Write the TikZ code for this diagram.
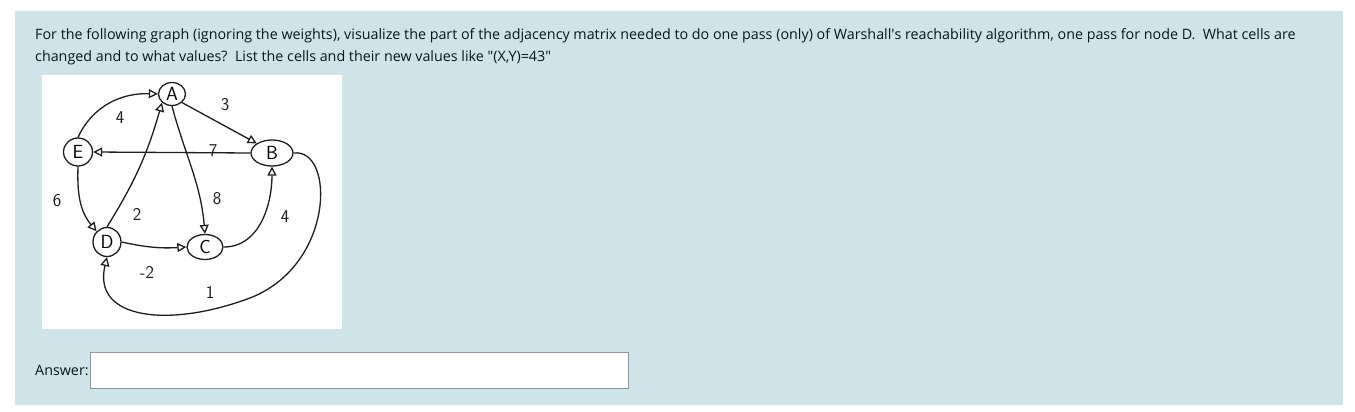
\documentclass[tikz,border=0pt]{standalone}
\usepackage{fontspec}
\setmainfont{Open Sans}
\usetikzlibrary{arrows.meta,shapes.geometric}
\definecolor{panelbg}{RGB}{206,228,232}
\definecolor{qtext}{RGB}{0,26,30}
\definecolor{boxline}{RGB}{143,149,158}
\definecolor{pen}{RGB}{30,30,30}
\newfontfamily\handfont{Latin Modern Sans}

\begin{document}
\begin{tikzpicture}[x=1pt,y=-1pt,>={Triangle[open,length=9pt,width=9pt]}]
        \tikzstyle{vert}=[ellipse, draw=pen, line width=1.3pt, inner sep=0pt, font=\handfont\fontsize{19}{19}\selectfont]
        \tikzstyle{wt}=[font=\handfont\fontsize{18}{18}\selectfont, text=pen]
        \tikzstyle{edge}=[->, line width=1.3pt, pen]
        \tikzstyle{qline}=[anchor=base west, inner sep=0pt, text=qtext, font=\fontsize{14.3}{16}\selectfont]
        \useasboundingbox (0,0) rectangle (1355,412);
        \fill[white] (0,0) rectangle (1355,412);
        \fill[panelbg] (15,11) rectangle (1343,405);
        \node[qline] (line1) at (35,40) {For the following graph (ignoring the weights), visualize the part of the adjacency matrix needed to do one pass (only) of Warshall\textquotesingle s reachability algorithm, one pass for node D.\ \ What cells are};
        \node[qline] (line2) at (35,62) {changed and to what values?\ \ List the cells and their new values like \textquotedbl(X,Y)=43\textquotedbl};
        \fill[white] (42,75) rectangle (342,329);
        % graph
        \node[vert, minimum width=27, minimum height=23] (A) at (172,94) {A};
        \node[vert, minimum width=42, minimum height=26] (B) at (272,153) {B};
        \node[vert, minimum width=29, minimum height=28] (E) at (78,152) {E};
        \node[vert, minimum width=28, minimum height=29] (D) at (107,242) {D};
        \node[vert, minimum width=36, minimum height=25] (C) at (205,247) {C};
        \draw[edge] (E.north) to[out=65,in=178] (A.west);
        \draw[edge] (D.north) to[bend right=8] (A.south west);
        \draw[edge] (A.south east) -- (B.north west);
        \draw[edge] (A.south) to[out=-75,in=95] (C.north);
        \draw[edge] (B.west) -- (E.east);
        \draw[edge] (E.south) to[out=-92,in=130] (D.north west);
        \draw[edge] (D.east) to[bend right=8] (C.west);
        \draw[edge] (C.east) to[out=0,in=-90] (B.south);
        \draw[edge] (B.east) .. controls (335,148) and (335,265) .. (250,298) .. controls (170,328) and (92,320) .. (D.south);
        \node[wt] (w4a) at (120,118) {4};
        \node[wt] (w2) at (137,214) {2};
        \node[wt] (w3) at (225,105) {3};
        \node[wt] (w8) at (217,199) {8};
        \node[wt] (w7) at (213,151) {7};
        \node[wt] (w6) at (57,201) {6};
        \node[wt] (wm2) at (147,272) {-2};
        \node[wt] (w4b) at (285,217) {4};
        \node[wt] (w1) at (210,292) {1};
        % answer field
        \node[qline] (answer) at (35,375) {Answer:};
        \draw[boxline, fill=white] (90.5,352.5) rectangle (628,388.5);
    \end{tikzpicture}
\end{document}
